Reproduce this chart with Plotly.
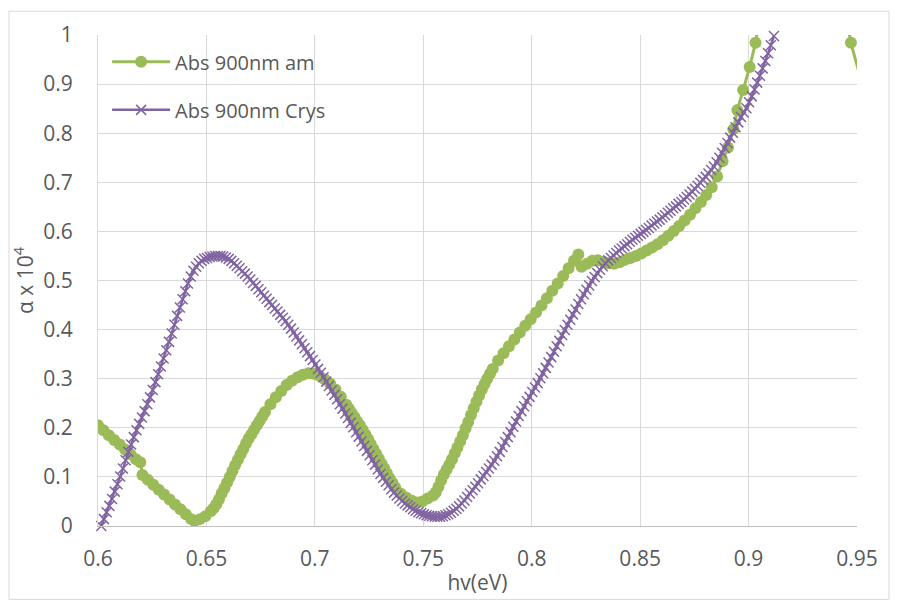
import plotly.graph_objects as go

# ---- data ----
am_x = [0.6000, 0.6025, 0.6050, 0.6075, 0.6100, 0.6125, 0.6150, 0.6175, 0.6195, 0.6205,
        0.6230, 0.6255, 0.6280, 0.6305, 0.6330, 0.6355, 0.6380, 0.6405, 0.6430, 0.6445,
        0.6470, 0.6495, 0.6520, 0.65325, 0.6545, 0.65575, 0.6570, 0.65825, 0.6595, 0.66075,
        0.6620, 0.66325, 0.6645, 0.66575, 0.6670, 0.66825, 0.6695, 0.67075, 0.6720, 0.67325,
        0.6745, 0.67575, 0.6770, 0.6795, 0.6820, 0.6845, 0.6870, 0.6895, 0.6920, 0.6945,
        0.6970, 0.6995, 0.7020, 0.7045, 0.7070, 0.7095, 0.7120, 0.7145, 0.71575, 0.7170,
        0.71825, 0.7195, 0.72075, 0.7220, 0.72325, 0.7245, 0.72575, 0.7270, 0.72825, 0.7295,
        0.73075, 0.7320, 0.73325, 0.7345, 0.73575, 0.7370, 0.7395, 0.7420, 0.7445, 0.7470,
        0.7495, 0.7520, 0.7545, 0.75575, 0.7570, 0.75825, 0.7595, 0.76075, 0.7620, 0.76325,
        0.7645, 0.76575, 0.7670, 0.76825, 0.7695, 0.77075, 0.7720, 0.77325, 0.7745, 0.77575,
        0.7770, 0.77825, 0.7795, 0.78075, 0.7820, 0.7845, 0.7870, 0.7895, 0.7920, 0.7945,
        0.7970, 0.7995, 0.8020, 0.8045, 0.8070, 0.8095, 0.8120, 0.8145, 0.8170, 0.8195,
        0.8215, 0.8230, 0.8255, 0.8280, 0.8305, 0.8330, 0.8355, 0.8380, 0.8405, 0.8430,
        0.8455, 0.8480, 0.8505, 0.8530, 0.8555, 0.8580, 0.8605, 0.8630, 0.8655, 0.8680,
        0.8705, 0.8730, 0.8755, 0.8780, 0.8805, 0.8830, 0.8855, 0.8880, 0.8905, 0.8930,
        0.8948, 0.8975, 0.9005, 0.9032, 0.9060, 0.9250, 0.9440, 0.9472, 0.9530]
am_y = [0.205, 0.195, 0.185, 0.175, 0.166, 0.156, 0.146, 0.136, 0.130, 0.104,
        0.094, 0.084, 0.074, 0.064, 0.054, 0.044, 0.034, 0.024, 0.014, 0.010,
        0.014, 0.020, 0.030, 0.036, 0.044, 0.054, 0.066, 0.077, 0.088, 0.100,
        0.112, 0.124, 0.135, 0.146, 0.157, 0.168, 0.178, 0.187, 0.196, 0.205,
        0.214, 0.223, 0.232, 0.248, 0.262, 0.275, 0.287, 0.296, 0.303, 0.308,
        0.311, 0.310, 0.306, 0.299, 0.290, 0.278, 0.263, 0.247, 0.239, 0.230,
        0.222, 0.213, 0.205, 0.196, 0.187, 0.177, 0.167, 0.157, 0.147, 0.137,
        0.127, 0.117, 0.107, 0.097, 0.088, 0.079, 0.066, 0.058, 0.052, 0.048,
        0.050, 0.056, 0.062, 0.068, 0.080, 0.093, 0.105, 0.115, 0.125, 0.136,
        0.148, 0.160, 0.172, 0.185, 0.199, 0.212, 0.226, 0.240, 0.253, 0.266,
        0.278, 0.289, 0.300, 0.310, 0.320, 0.337, 0.352, 0.366, 0.380, 0.394,
        0.408, 0.421, 0.435, 0.449, 0.464, 0.479, 0.494, 0.509, 0.525, 0.540,
        0.553, 0.528, 0.534, 0.540, 0.541, 0.538, 0.535, 0.534, 0.537, 0.542,
        0.546, 0.550, 0.555, 0.561, 0.567, 0.574, 0.582, 0.591, 0.601, 0.611,
        0.622, 0.634, 0.647, 0.660, 0.674, 0.690, 0.712, 0.743, 0.771, 0.808,
        0.847, 0.888, 0.935, 0.984, 1.060, 1.250, 1.060, 0.984, 0.890]

crys_x = [0.6015, 0.60275, 0.6040, 0.60525, 0.6065, 0.60775, 0.6090, 0.61025, 0.6115, 0.61275,
          0.6140, 0.61525, 0.6165, 0.61775, 0.6190, 0.62025, 0.6215, 0.62275, 0.6240, 0.62525,
          0.6265, 0.62775, 0.6290, 0.63025, 0.6315, 0.63275, 0.6340, 0.63525, 0.6365, 0.63775,
          0.6390, 0.64025, 0.6415, 0.64275, 0.6440, 0.64525, 0.6465, 0.64775, 0.6490, 0.65025,
          0.6515, 0.65275, 0.6540, 0.65525, 0.6565, 0.65775, 0.6590, 0.66025, 0.6615, 0.66275,
          0.6640, 0.66525, 0.6665, 0.66775, 0.6690, 0.67025, 0.6715, 0.67275, 0.6740, 0.67525,
          0.6765, 0.67775, 0.6790, 0.68025, 0.6815, 0.68275, 0.6840, 0.68525, 0.6865, 0.68775,
          0.6890, 0.69025, 0.6915, 0.69275, 0.6940, 0.69525, 0.6965, 0.69775, 0.6990, 0.70025,
          0.7015, 0.70275, 0.7040, 0.70525, 0.7065, 0.70775, 0.7090, 0.71025, 0.7115, 0.71275,
          0.7140, 0.71525, 0.7165, 0.71775, 0.7190, 0.72025, 0.7215, 0.72275, 0.7240, 0.72525,
          0.7265, 0.72775, 0.7290, 0.73025, 0.7315, 0.73275, 0.7340, 0.73525, 0.7365, 0.73775,
          0.7390, 0.74025, 0.7415, 0.74275, 0.7440, 0.74525, 0.7465, 0.74775, 0.7490, 0.75025,
          0.7515, 0.75275, 0.7540, 0.75525, 0.7565, 0.75775, 0.7590, 0.76025, 0.7615, 0.76275,
          0.7640, 0.76525, 0.7665, 0.76775, 0.7690, 0.77025, 0.7715, 0.77275, 0.7740, 0.77525,
          0.7765, 0.77775, 0.7790, 0.78025, 0.7815, 0.78275, 0.7840, 0.78525, 0.7865, 0.78775,
          0.7890, 0.79025, 0.7915, 0.79275, 0.7940, 0.79525, 0.7965, 0.79775, 0.7990, 0.80025,
          0.8015, 0.80275, 0.8040, 0.80525, 0.8065, 0.80775, 0.8090, 0.81025, 0.8115, 0.81275,
          0.8140, 0.81525, 0.8165, 0.81775, 0.8190, 0.82025, 0.8215, 0.82275, 0.8240, 0.82525,
          0.8265, 0.82775, 0.8290, 0.83025, 0.8315, 0.83275, 0.8340, 0.83525, 0.8365, 0.83775,
          0.8390, 0.84025, 0.8415, 0.84275, 0.8440, 0.84525, 0.8465, 0.84775, 0.8490, 0.85025,
          0.8515, 0.85275, 0.8540, 0.85525, 0.8565, 0.85775, 0.8590, 0.86025, 0.8615, 0.86275,
          0.8640, 0.86525, 0.8665, 0.86775, 0.8690, 0.87025, 0.8715, 0.87275, 0.8740, 0.87525,
          0.8765, 0.87775, 0.8790, 0.88025, 0.8815, 0.88275, 0.8840, 0.88525, 0.8865, 0.88775,
          0.8890, 0.89025, 0.8915, 0.89275, 0.8940, 0.89525, 0.8965, 0.89775, 0.8990, 0.90025,
          0.9015, 0.90275, 0.9040, 0.90525, 0.9065, 0.90775, 0.9090, 0.91025, 0.9117]
crys_y = [0.000, 0.014, 0.028, 0.041, 0.055, 0.070, 0.085, 0.101, 0.117, 0.134,
          0.151, 0.166, 0.181, 0.195, 0.208, 0.221, 0.234, 0.248, 0.262, 0.277,
          0.293, 0.309, 0.325, 0.341, 0.358, 0.375, 0.392, 0.410, 0.428, 0.445,
          0.462, 0.478, 0.494, 0.508, 0.520, 0.528, 0.535, 0.540, 0.544, 0.546,
          0.548, 0.549, 0.550, 0.550, 0.550, 0.549, 0.547, 0.544, 0.540, 0.535,
          0.530, 0.525, 0.519, 0.514, 0.508, 0.502, 0.495, 0.489, 0.482, 0.476,
          0.469, 0.463, 0.456, 0.450, 0.443, 0.437, 0.430, 0.424, 0.417, 0.410,
          0.402, 0.394, 0.386, 0.378, 0.370, 0.362, 0.354, 0.346, 0.338, 0.329,
          0.320, 0.312, 0.303, 0.294, 0.285, 0.276, 0.267, 0.258, 0.248, 0.239,
          0.229, 0.220, 0.210, 0.201, 0.191, 0.182, 0.172, 0.163, 0.153, 0.144,
          0.134, 0.125, 0.115, 0.106, 0.098, 0.090, 0.083, 0.075, 0.068, 0.062,
          0.056, 0.051, 0.046, 0.042, 0.038, 0.034, 0.031, 0.028, 0.026, 0.024,
          0.022, 0.021, 0.020, 0.019, 0.019, 0.019, 0.020, 0.022, 0.024, 0.027,
          0.031, 0.035, 0.040, 0.046, 0.052, 0.059, 0.066, 0.073, 0.080, 0.087,
          0.095, 0.102, 0.110, 0.117, 0.125, 0.133, 0.142, 0.151, 0.161, 0.171,
          0.181, 0.191, 0.202, 0.213, 0.224, 0.234, 0.244, 0.254, 0.263, 0.273,
          0.282, 0.291, 0.301, 0.311, 0.322, 0.333, 0.344, 0.355, 0.366, 0.377,
          0.389, 0.399, 0.410, 0.420, 0.431, 0.441, 0.452, 0.462, 0.472, 0.481,
          0.490, 0.499, 0.507, 0.515, 0.522, 0.529, 0.535, 0.541, 0.546, 0.551,
          0.556, 0.561, 0.565, 0.570, 0.574, 0.579, 0.583, 0.587, 0.591, 0.595,
          0.599, 0.603, 0.607, 0.612, 0.616, 0.620, 0.624, 0.629, 0.633, 0.638,
          0.642, 0.647, 0.651, 0.656, 0.660, 0.665, 0.670, 0.675, 0.681, 0.687,
          0.693, 0.699, 0.705, 0.711, 0.718, 0.725, 0.732, 0.741, 0.750, 0.760,
          0.770, 0.780, 0.791, 0.801, 0.812, 0.822, 0.833, 0.842, 0.851, 0.863,
          0.875, 0.889, 0.903, 0.917, 0.932, 0.947, 0.963, 0.979, 0.998]

x_ticks = [0.6, 0.65, 0.7, 0.75, 0.8, 0.85, 0.9, 0.95]
x_tick_labels = ["0.6", "0.65", "0.7", "0.75", "0.8", "0.85", "0.9", "0.95"]
y_ticks = [0, 0.1, 0.2, 0.3, 0.4, 0.5, 0.6, 0.7, 0.8, 0.9, 1]
y_tick_labels = ["0", "0.1", "0.2", "0.3", "0.4", "0.5", "0.6", "0.7", "0.8", "0.9", "1"]

GREEN = "#9BBB59"
PURPLE = "#8064A2"
TXT = "#595959"
FONT = "Open Sans, Liberation Sans, Arial"

fig = go.Figure()
fig.add_trace(go.Scatter(
    x=am_x, y=am_y, name="Abs 900nm am", mode="lines+markers",
    line=dict(color=GREEN, width=3),
    marker=dict(symbol="circle", size=12, color=GREEN),
    legendgroup="a",
))
fig.add_trace(go.Scatter(
    x=crys_x, y=crys_y, name="Abs 900nm Crys", mode="lines+markers",
    line=dict(color=PURPLE, width=2.5),
    marker=dict(symbol="x-thin", size=10, line=dict(color=PURPLE, width=1.5)),
    legendgroup="b", cliponaxis=False,
))

# page body has an 8px margin; figure sized so the plot area lands where the reference has it
W, H = 882, 595
L, R, T, B = 90, 33, 25, 75
pw, ph = W - L - R, H - T - B

fig.update_layout(
    width=W, height=H,
    margin=dict(l=L, r=R, t=T, b=B),
    paper_bgcolor="white", plot_bgcolor="white",
    font=dict(family=FONT, color=TXT, size=21),
    showlegend=True,
    legend=dict(x=0.012, y=0.985, xanchor="left", yanchor="top",
                bgcolor="rgba(255,255,255,0)", font=dict(size=20, color=TXT),
                tracegroupgap=19, itemwidth=58),
    xaxis=dict(range=[0.6, 0.95], tickvals=x_ticks, ticktext=x_tick_labels,
               showgrid=True, gridcolor="#D9D9D9", gridwidth=1,
               showline=True, linecolor="#BFBFBF", linewidth=1,
               zeroline=False, ticks="", ticklen=0, ticklabelstandoff=14,
               tickfont=dict(size=21, color=TXT),
               title=dict(text="hv(eV)", font=dict(size=21, color=TXT), standoff=4)),
    yaxis=dict(range=[0, 1], tickvals=y_ticks, ticktext=y_tick_labels,
               showgrid=True, gridcolor="#D9D9D9", gridwidth=1,
               showline=True, linecolor="#D9D9D9", linewidth=1,
               zeroline=False, ticks="", ticklen=0, ticklabelstandoff=20,
               tickfont=dict(size=21, color=TXT),
               title=dict(text="α x 10<sup>4</sup>", font=dict(size=21, color=TXT), standoff=8)),
    shapes=[dict(type="rect", xref="paper", yref="paper",
                 x0=-(L - 1) / pw, x1=1 + (R - 1) / pw,
                 y0=-(B - 1) / ph, y1=1 + (T - 1) / ph,
                 line=dict(color="#D9D9D9", width=1), fillcolor="rgba(0,0,0,0)",
                 layer="below")],
)

fig.write_html("out.html")
